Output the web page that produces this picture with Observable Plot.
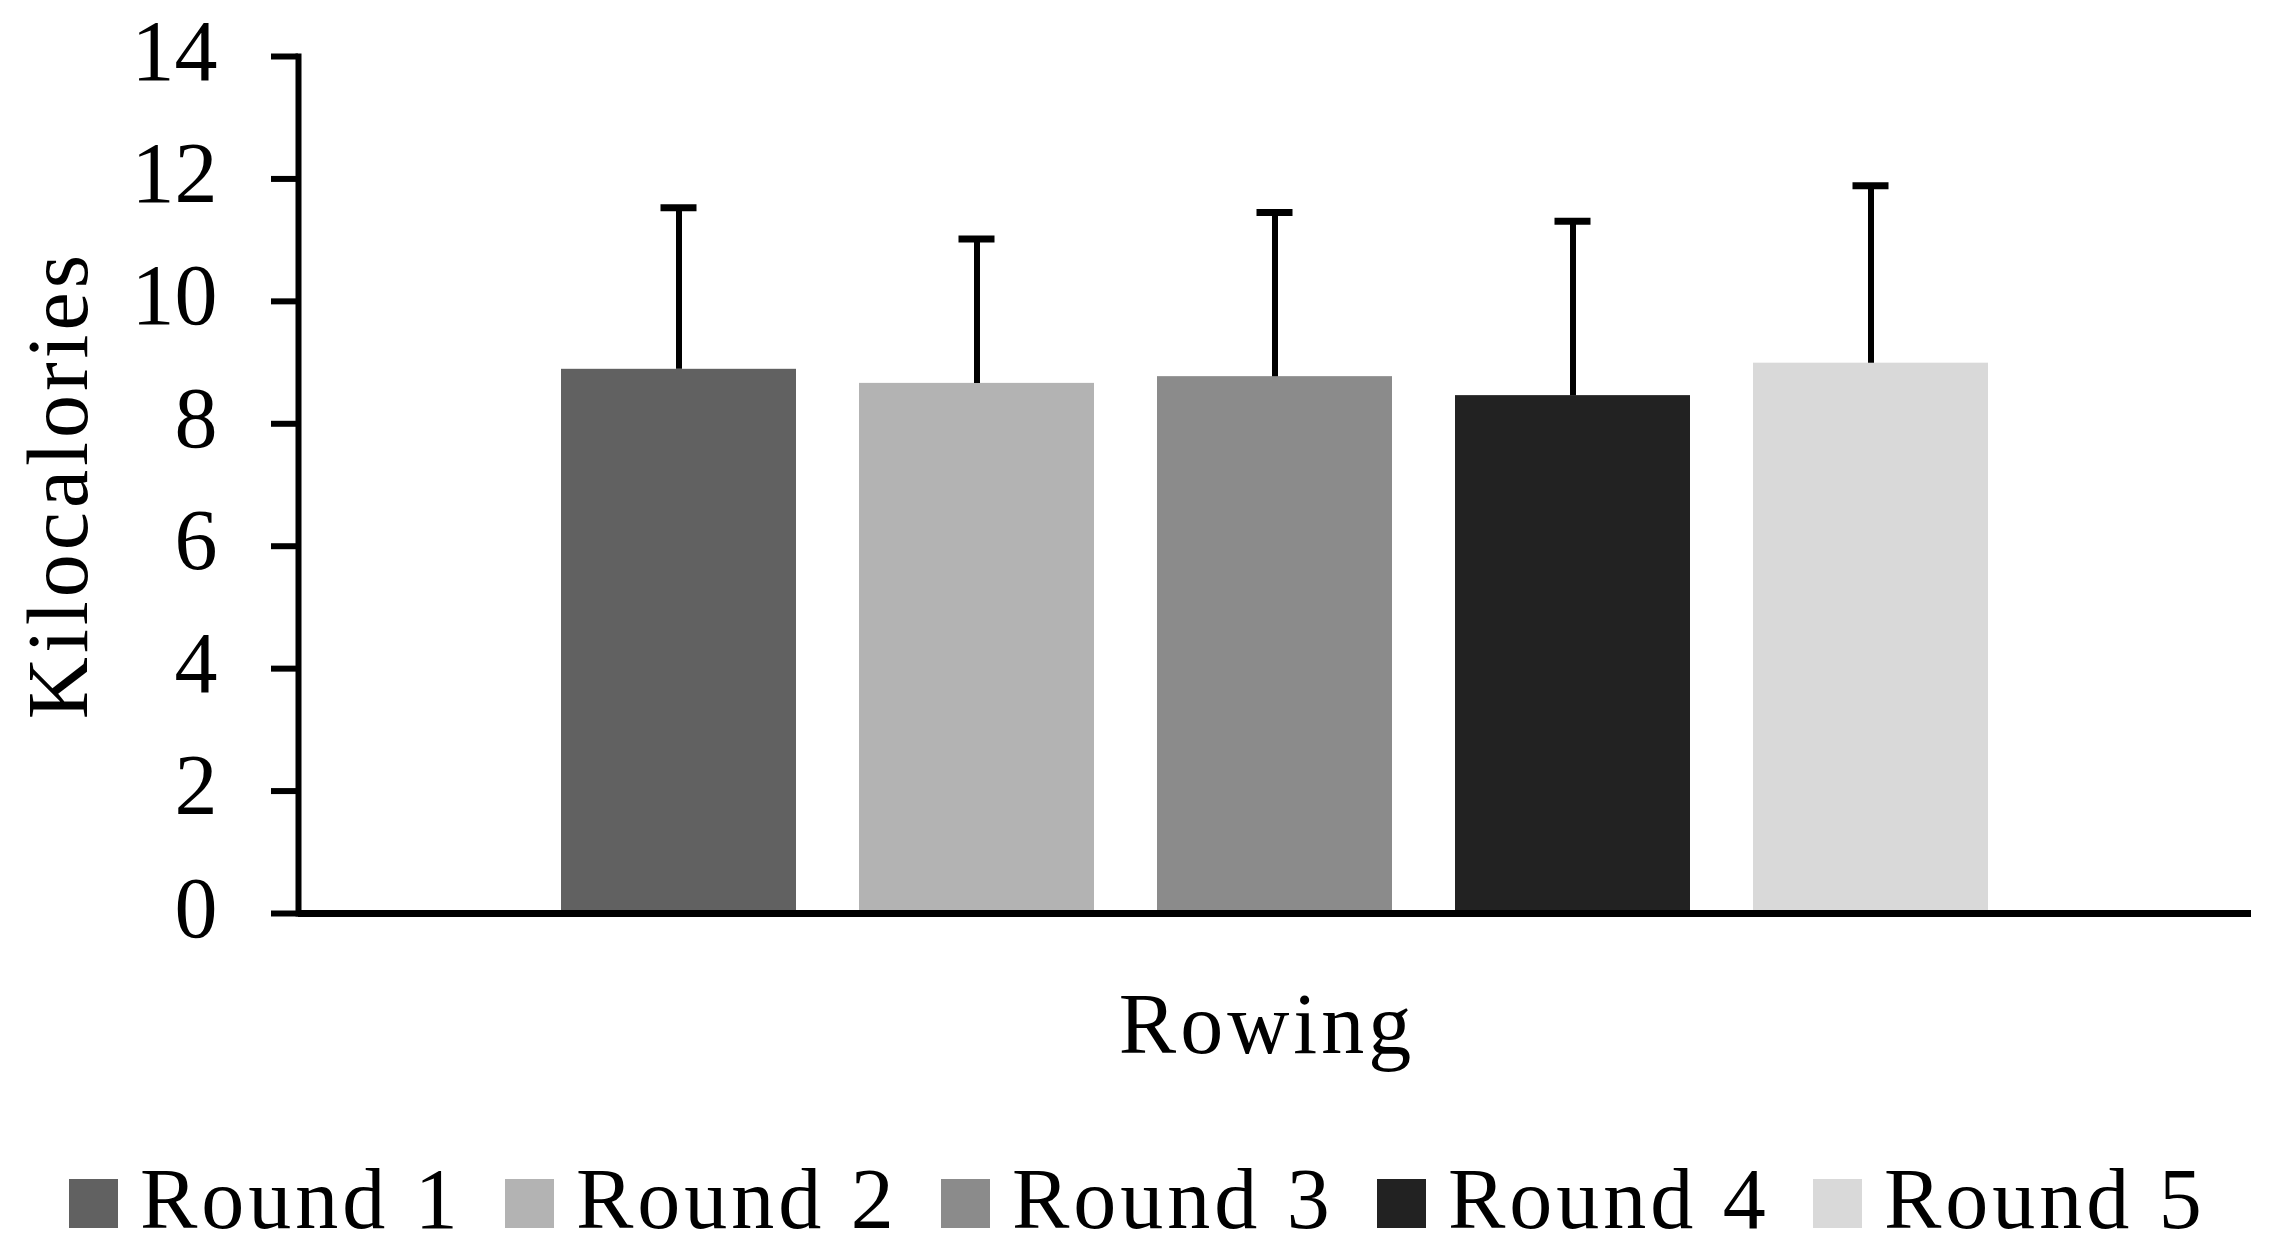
<!DOCTYPE html>
<html>
<head>
<meta charset="utf-8">
<script src="https://cdn.jsdelivr.net/npm/d3@7"></script>
<script src="https://cdn.jsdelivr.net/npm/@observablehq/plot@0.6"></script>
<style>
  html, body { margin: 0; padding: 0; background: #fff; }
  #legend {
    height: 141px; box-sizing: border-box; padding-top: 46px; padding-left: 69px;
    font-family: "Liberation Serif", "Times New Roman", serif; font-size: 86px; line-height: 1;
    white-space: nowrap; display: flex; color: #000; letter-spacing: 4px;
  }
  #legend .item { width: 436px; flex: none; }
  #legend .sw { display: inline-block; width: 49px; height: 49px; margin-right: 22px; }
</style>
</head>
<body>
<div id="chart"></div>
<div id="legend"></div>
<script>
const rounds = ["Round 1", "Round 2", "Round 3", "Round 4", "Round 5"];
const means = [8.89, 8.66, 8.77, 8.46, 8.99];
const sds = [2.64, 2.36, 2.68, 2.85, 2.90];
const colors = ["#616161", "#b3b3b3", "#8b8b8b", "#222222", "#d9d9d9"];
const yTicks = [0, 2, 4, 6, 8, 10, 12, 14];
const xLabel = "Rowing";
const yLabel = "Kilocalories";

const data = rounds.map((r, i) => ({round: r, mean: means[i], top: means[i] + sds[i]}));

const FS = 86;
const chart = Plot.plot({
  width: 2269,
  height: 1110,
  marginLeft: 298,
  marginRight: 18,
  marginTop: 56,
  marginBottom: 197,
  style: {fontFamily: "'Liberation Serif', 'Times New Roman', serif", background: "white", color: "black"},
  x: {domain: rounds, paddingInner: 0.21, paddingOuter: 0.871, axis: null},
  y: {domain: [0, 14], axis: null},
  color: {domain: rounds, range: colors},
  marks: [
    Plot.barY(data, {x: "round", y: "mean", fill: "round"}),
    Plot.ruleX(data, {x: "round", y1: "mean", y2: "top", stroke: "black", strokeWidth: 6}),
    Plot.tickY(data, {x: "round", y: "top", stroke: "black", strokeWidth: 7, insetLeft: 99.5, insetRight: 99.5}),
    Plot.axisY({ticks: yTicks, tickSize: 27, strokeWidth: 6, tickFormat: () => "", label: null}),
    Plot.axisY({ticks: yTicks, tickSize: 0, tickPadding: 81, fontSize: FS, dy: -4.5, label: null}),
    Plot.frame({anchor: "left", strokeWidth: 6}),
    Plot.ruleY([0], {strokeWidth: 7}),
    Plot.text([yLabel], {frameAnchor: "left", textAnchor: "middle", rotate: -90, dx: 86 - 298, lineAnchor: "bottom", fontSize: FS}),
    Plot.text([xLabel], {frameAnchor: "bottom", textAnchor: "middle", lineAnchor: "bottom", dy: 139, dx: -8, fontSize: FS})
  ]
});
d3.select(chart).selectAll("text")
  .filter(function() { const t = this.textContent; return t === xLabel || t === yLabel; })
  .style("letter-spacing", "4px");
document.getElementById("chart").append(chart);

const legend = d3.select("#legend");
rounds.forEach((r, i) => {
  const item = legend.append("div").attr("class", "item");
  item.append("span").attr("class", "sw").style("background", colors[i]);
  item.append("span").text(r);
});
</script>
</body>
</html>
